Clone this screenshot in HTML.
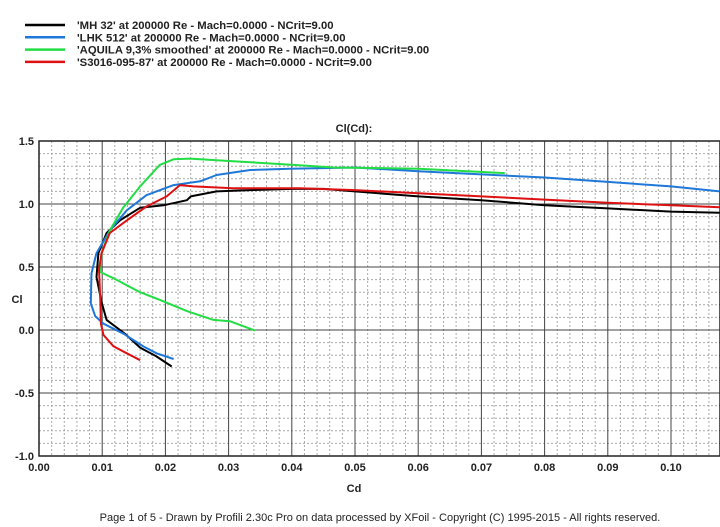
<!DOCTYPE html>
<html><head><meta charset="utf-8"><style>
body{margin:0;background:#fff;font-family:"Liberation Sans",Arial,sans-serif}
svg{display:block}
text{font-family:"Liberation Sans",Arial,sans-serif}
</style></head><body>
<svg id="chart" width="720" height="527" viewBox="0 0 720 527"></svg>
<script>
const xTicks=[0.00,0.01,0.02,0.03,0.04,0.05,0.06,0.07,0.08,0.09,0.10];
const yTicks=[1.5,1.0,0.5,0.0,-0.5,-1.0];
const seriesNames=["'MH 32' at 200000 Re - Mach=0.0000 - NCrit=9.00","'LHK  512' at 200000 Re - Mach=0.0000 - NCrit=9.00","'AQUILA 9,3% smoothed' at 200000 Re - Mach=0.0000 - NCrit=9.00","'S3016-095-87' at 200000 Re - Mach=0.0000 - NCrit=9.00"];
const seriesColors=["#000000","#1f78d8","#22dd44","#dd1111"];
const mhCd=[0.021,0.0186,0.016,0.0136,0.0107,0.0099,0.0091,0.0094,0.0107,0.0128,0.016,0.0197,0.0234,0.024,0.0281,0.0334,0.040,0.045,0.050,0.060,0.070,0.080,0.090,0.100,0.1077];
const mhCl=[-0.29,-0.21,-0.14,-0.03,0.08,0.22,0.42,0.61,0.77,0.87,0.97,0.99,1.03,1.06,1.10,1.11,1.12,1.12,1.10,1.06,1.03,0.99,0.965,0.94,0.93];
const lhkCd=[0.0213,0.0186,0.0165,0.0134,0.0102,0.0089,0.0082,0.0083,0.0091,0.0112,0.0139,0.017,0.0213,0.0255,0.0281,0.0334,0.0397,0.050,0.060,0.070,0.080,0.090,0.100,0.1077];
const lhkCl=[-0.23,-0.185,-0.13,-0.03,0.05,0.11,0.21,0.45,0.61,0.79,0.95,1.07,1.15,1.18,1.23,1.27,1.28,1.29,1.26,1.235,1.21,1.175,1.14,1.10];
const aqCd=[0.0342,0.0302,0.0276,0.0234,0.0191,0.016,0.0118,0.0097,0.0099,0.0112,0.0133,0.016,0.0191,0.0213,0.0239,0.0307,0.0402,0.0466,0.060,0.0737];
const aqCl=[-0.005,0.07,0.08,0.15,0.24,0.30,0.41,0.46,0.61,0.79,0.97,1.14,1.31,1.355,1.36,1.34,1.31,1.29,1.28,1.245];
const sCd=[0.016,0.0139,0.0118,0.0102,0.0098,0.0097,0.0095,0.0099,0.0112,0.0139,0.017,0.0202,0.0223,0.0244,0.0307,0.0413,0.050,0.060,0.070,0.080,0.090,0.100,0.1077];
const sCl=[-0.24,-0.185,-0.13,-0.04,0.05,0.24,0.48,0.61,0.77,0.87,0.98,1.06,1.15,1.14,1.125,1.125,1.11,1.085,1.06,1.035,1.01,0.99,0.975];
const seriesX=[mhCd,lhkCd,aqCd,sCd];
const seriesY=[mhCl,lhkCl,aqCl,sCl];
const seriesIds=["mh32","lhk512","aquila","s3016"];

const NS="http://www.w3.org/2000/svg";
const svg=document.getElementById('chart');
const L=39,R=720,T=141,B=456;
const xs=v=>L+v*6320;
const ys=v=>330-v*126;
function mk(tag,attrs,parent){const e=document.createElementNS(NS,tag);for(const k in attrs)e.setAttribute(k,attrs[k]);(parent||svg).appendChild(e);return e;}

const grid=mk('g',{});


for(let i=1;i<54;i++){if(i%5===0)continue;const x=xs(i*0.002);mk('line',{x1:x,x2:x,y1:T,y2:B,stroke:'#aaa',"stroke-width":1,"stroke-dasharray":"2,2"},grid);}
for(let i=-9;i<15;i++){if(i%5===0)continue;const y=ys(i*0.1);mk('line',{x1:L,x2:R,y1:y,y2:y,stroke:'#aaa',"stroke-width":1,"stroke-dasharray":"2,2"},grid);}
xTicks.forEach(v=>{const x=xs(v);mk('line',{x1:x,x2:x,y1:T,y2:B,stroke:'#444',"stroke-width":1},grid);
 const t=mk('text',{x:x,y:471,"text-anchor":"middle","font-size":11,"font-weight":"bold",fill:'#222'});t.textContent=v.toFixed(2);
 
 });
yTicks.forEach(v=>{const y=ys(v);mk('line',{x1:L,x2:R,y1:y,y2:y,stroke:'#444',"stroke-width":1},grid);
 const t=mk('text',{x:34,y:y+4,"text-anchor":"end","font-size":11,"font-weight":"bold",fill:'#222'});t.textContent=v.toFixed(1);
 
 });
mk('rect',{x:L,y:T,width:R-L,height:B-T,fill:'none',stroke:'#222',"stroke-width":1.5});

seriesX.forEach((xa,si)=>{
 const pts=xa.map((v,i)=>xs(v).toFixed(1)+','+ys(seriesY[si][i]).toFixed(1)).join(' ');
 const p=mk('polyline',{points:pts,fill:'none',stroke:seriesColors[si],"stroke-width":2,"stroke-linejoin":"round"});
 
 
});

seriesNames.forEach((n,i)=>{
 const y=25+i*12.3;
 const g=mk('g',{});
 
 
 mk('line',{x1:25,x2:65,y1:y,y2:y,stroke:seriesColors[i],"stroke-width":2.5},g);
 const t=mk('text',{x:77,y:y+4,"font-size":11.3,"font-weight":"bold",fill:'#222'},g);t.textContent=n;
});

const tt=mk('text',{x:354,y:132,"text-anchor":"middle","font-size":11,"font-weight":"bold",fill:'#222'});tt.textContent='Cl(Cd):';


const yl=mk('text',{x:17,y:303,"text-anchor":"middle","font-size":11,"font-weight":"bold",fill:'#222'});yl.textContent='Cl';


const xl=mk('text',{x:354,y:492,"text-anchor":"middle","font-size":11,"font-weight":"bold",fill:'#222'});xl.textContent='Cd';


const ft=mk('text',{x:380,y:521,"text-anchor":"middle","font-size":11,fill:'#222'});ft.textContent='Page 1 of 5   -   Drawn by Profili 2.30c Pro on data processed by  XFoil - Copyright (C) 1995-2015 - All rights reserved.';


</script>
</body></html>
